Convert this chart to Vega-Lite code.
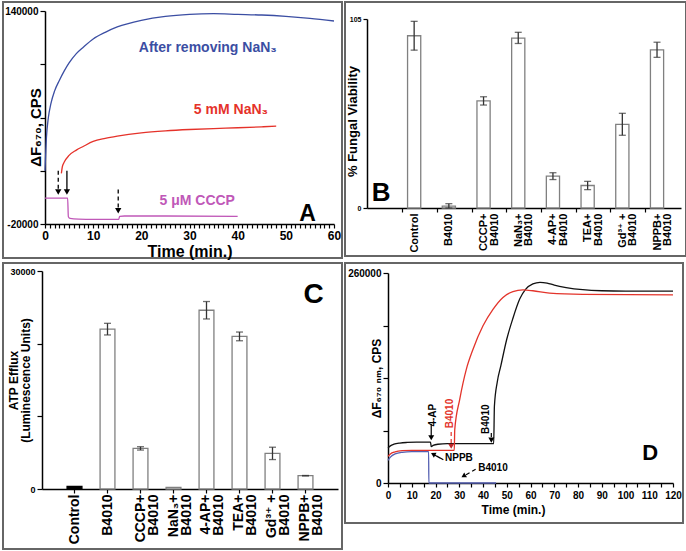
{
  "$schema": "https://vega.github.io/schema/vega-lite/v6.json",
  "padding": {"left": 2, "top": 1, "right": 0, "bottom": 0},
  "background": "white",
  "config": {
    "font": "Liberation Sans, DejaVu Sans, sans-serif",
    "view": {"stroke": "#666", "strokeWidth": 2},
    "axis": {"grid": false, "domainColor": "#000", "domainWidth": 1.5, "tickColor": "#000", "tickWidth": 1.2, "labelColor": "#000", "titleColor": "#000", "labelFontWeight": "bold", "titleFontWeight": "bold", "labelFlush": false, "labelOverlap": false}
  },
  "resolve": {"scale": {"color": "independent", "strokeDash": "independent"}},
  "datasets": {
    "aLines": [
      {"s": "after", "t": 0, "v": 20000}, {"s": "after", "t": 0.3, "v": 45000}, {"s": "after", "t": 0.7, "v": 60000}, {"s": "after", "t": 1.2, "v": 70000}, {"s": "after", "t": 2, "v": 80000}, {"s": "after", "t": 3, "v": 88000}, {"s": "after", "t": 4, "v": 95000}, {"s": "after", "t": 5, "v": 101000}, {"s": "after", "t": 6.5, "v": 108000}, {"s": "after", "t": 8, "v": 113000}, {"s": "after", "t": 10, "v": 119000}, {"s": "after", "t": 12.5, "v": 124000}, {"s": "after", "t": 15, "v": 128000}, {"s": "after", "t": 20, "v": 133000}, {"s": "after", "t": 25, "v": 136000}, {"s": "after", "t": 30, "v": 137500}, {"s": "after", "t": 35, "v": 138000}, {"s": "after", "t": 40, "v": 137500}, {"s": "after", "t": 45, "v": 137000}, {"s": "after", "t": 50, "v": 136000}, {"s": "after", "t": 55, "v": 134500}, {"s": "after", "t": 60, "v": 132500},
      {"s": "nan3", "t": 3.4, "v": 18000}, {"s": "nan3", "t": 3.6, "v": 23000}, {"s": "nan3", "t": 4, "v": 26500}, {"s": "nan3", "t": 5, "v": 31500}, {"s": "nan3", "t": 6.5, "v": 35500}, {"s": "nan3", "t": 8, "v": 38400}, {"s": "nan3", "t": 10, "v": 42000}, {"s": "nan3", "t": 12.5, "v": 44300}, {"s": "nan3", "t": 15, "v": 46000}, {"s": "nan3", "t": 20, "v": 48500}, {"s": "nan3", "t": 25, "v": 50000}, {"s": "nan3", "t": 30, "v": 51000}, {"s": "nan3", "t": 35, "v": 51700}, {"s": "nan3", "t": 40, "v": 52300}, {"s": "nan3", "t": 45, "v": 53000}, {"s": "nan3", "t": 48, "v": 53500},
      {"s": "cccp", "t": 0, "v": -500}, {"s": "cccp", "t": 4.7, "v": -500}, {"s": "cccp", "t": 4.85, "v": -14500}, {"s": "cccp", "t": 5.2, "v": -15800}, {"s": "cccp", "t": 7, "v": -16300}, {"s": "cccp", "t": 10, "v": -16500}, {"s": "cccp", "t": 15.3, "v": -16500}, {"s": "cccp", "t": 15.5, "v": -14200}, {"s": "cccp", "t": 16.5, "v": -14000}, {"s": "cccp", "t": 25, "v": -14000}, {"s": "cccp", "t": 40, "v": -14200}
    ],
    "aArrows": [
      {"t": 2.75, "v": 20000, "v2": 4000, "k": "dashed"},
      {"t": 4.55, "v": 20000, "v2": 4000, "k": "solid"},
      {"t": 15.2, "v": 6000, "v2": -10000, "k": "dashed"}
    ],
    "aText": [
      {"t": 33.8, "v": 112000, "label": "After removing NaN₃", "s": "after"},
      {"t": 38.6, "v": 66000, "label": "5 mM NaN₃", "s": "nan3"},
      {"t": 31.6, "v": -3000, "label": "5 μM CCCP", "s": "cccp"}
    ],
    "bData": [
      {"g": "Control", "v": 95.7}, {"g": "B4010", "v": 1.0}, {"g": "CCCP+\nB4010", "v": 59.5}, {"g": "NaN₃+\nB4010", "v": 94.4},
      {"g": "4-AP+\nB4010", "v": 17.7}, {"g": "TEA+\nB4010", "v": 12.5}, {"g": "Gd³⁺ +\nB4010", "v": 46.5}, {"g": "NPPB+\nB4010", "v": 87.9}
    ],
    "bErr": [
      {"g": "Control", "v": 87.7, "v2": 103.7}, {"g": "B4010", "v": 0, "v2": 2.4}, {"g": "CCCP+\nB4010", "v": 57.2, "v2": 61.8}, {"g": "NaN₃+\nB4010", "v": 91.4, "v2": 97.6},
      {"g": "4-AP+\nB4010", "v": 15.8, "v2": 19.6}, {"g": "TEA+\nB4010", "v": 10.2, "v2": 14.8}, {"g": "Gd³⁺ +\nB4010", "v": 40.4, "v2": 52.6}, {"g": "NPPB+\nB4010", "v": 83.7, "v2": 92.1}
    ],
    "cData": [
      {"g": "Control", "v": 350}, {"g": "B4010", "v": 22000}, {"g": "CCCP+\nB4010", "v": 5590}, {"g": "NaN₃+\nB4010", "v": 230},
      {"g": "4-AP+\nB4010", "v": 24600}, {"g": "TEA+\nB4010", "v": 21000}, {"g": "Gd³⁺ +\nB4010", "v": 4900}, {"g": "NPPB+\nB4010", "v": 1830}
    ],
    "cErr": [
      {"g": "B4010", "v": 21200, "v2": 22800}, {"g": "CCCP+\nB4010", "v": 5360, "v2": 5820},
      {"g": "4-AP+\nB4010", "v": 23400, "v2": 25800}, {"g": "TEA+\nB4010", "v": 20400, "v2": 21600}, {"g": "Gd³⁺ +\nB4010", "v": 4050, "v2": 5750}, {"g": "NPPB+\nB4010", "v": 1800, "v2": 1860}
    ],
    "dLines": [
      {"s": "4ap", "t": 0, "v": 43500}, {"s": "4ap", "t": 1, "v": 46000}, {"s": "4ap", "t": 2.5, "v": 48000}, {"s": "4ap", "t": 5, "v": 49500}, {"s": "4ap", "t": 8, "v": 50200}, {"s": "4ap", "t": 12, "v": 50500}, {"s": "4ap", "t": 17.9, "v": 50500}, {"s": "4ap", "t": 18.2, "v": 45000}, {"s": "4ap", "t": 19, "v": 46500}, {"s": "4ap", "t": 21, "v": 48000}, {"s": "4ap", "t": 25, "v": 48700}, {"s": "4ap", "t": 35, "v": 48700}, {"s": "4ap", "t": 44.5, "v": 48700}, {"s": "4ap", "t": 44.8, "v": 95000}, {"s": "4ap", "t": 46, "v": 125000}, {"s": "4ap", "t": 47.5, "v": 145000}, {"s": "4ap", "t": 50, "v": 178000}, {"s": "4ap", "t": 52.5, "v": 203000}, {"s": "4ap", "t": 55.5, "v": 228000}, {"s": "4ap", "t": 58, "v": 240000}, {"s": "4ap", "t": 61, "v": 246500}, {"s": "4ap", "t": 64, "v": 248500}, {"s": "4ap", "t": 67, "v": 247500}, {"s": "4ap", "t": 70, "v": 245000}, {"s": "4ap", "t": 75, "v": 242000}, {"s": "4ap", "t": 82, "v": 239300}, {"s": "4ap", "t": 90, "v": 238000}, {"s": "4ap", "t": 100, "v": 237600}, {"s": "4ap", "t": 120, "v": 237600},
      {"s": "b4010", "t": 0, "v": 33000}, {"s": "b4010", "t": 1, "v": 36000}, {"s": "b4010", "t": 3, "v": 38500}, {"s": "b4010", "t": 6, "v": 40000}, {"s": "b4010", "t": 10, "v": 40500}, {"s": "b4010", "t": 27.9, "v": 40500}, {"s": "b4010", "t": 28.1, "v": 66000}, {"s": "b4010", "t": 30.2, "v": 103500}, {"s": "b4010", "t": 33, "v": 141000}, {"s": "b4010", "t": 35.8, "v": 165600}, {"s": "b4010", "t": 40, "v": 194600}, {"s": "b4010", "t": 44.2, "v": 215000}, {"s": "b4010", "t": 48.4, "v": 229800}, {"s": "b4010", "t": 52.6, "v": 237000}, {"s": "b4010", "t": 56.8, "v": 239000}, {"s": "b4010", "t": 61, "v": 238000}, {"s": "b4010", "t": 68, "v": 235000}, {"s": "b4010", "t": 82, "v": 233500}, {"s": "b4010", "t": 120, "v": 233000},
      {"s": "nppb", "t": 0, "v": 28000}, {"s": "nppb", "t": 1, "v": 32000}, {"s": "nppb", "t": 3, "v": 36000}, {"s": "nppb", "t": 6, "v": 38000}, {"s": "nppb", "t": 10, "v": 38800}, {"s": "nppb", "t": 17.1, "v": 38800}, {"s": "nppb", "t": 17.2, "v": 0}, {"s": "nppb", "t": 45.5, "v": 0}
    ]
  },
  "columns": 2,
  "spacing": {"row": 5, "column": 3},
  "bounds": "flush",
  "concat": [
    {
      "width": 339,
      "height": 256,
      "encoding": {
        "x": {"field": "t", "type": "quantitative", "scale": {"domain": [0, 60], "range": [42, 331], "nice": false, "zero": false},
          "axis": {"title": "Time (min.)", "offset": -34, "values": [0,1,2,3,4,5,6,7,8,9,10,11,12,13,14,15,16,17,18,19,20,21,22,23,24,25,26,27,28,29,30,31,32,33,34,35,36,37,38,39,40,41,42,43,44,45,46,47,48,49,50,51,52,53,54,55,56,57,58,59,60],
            "labelExpr": "datum.value % 10 === 0 ? datum.label : ''", "labelOverlap": false, "tickSize": 4, "labelFontSize": 12, "labelPadding": 2, "titleFontSize": 16, "titlePadding": 2}},
        "y": {"field": "v", "type": "quantitative", "scale": {"domain": [-20000, 140000], "range": [222, 9], "nice": false, "zero": false},
          "axis": {"title": "ΔF₆₇₀, CPS", "offset": -42, "values": [-20000, 20000, 60000, 100000, 140000], "labelOverlap": false,
            "labelExpr": "datum.value === 140000 ? '140000' : (datum.value === -20000 ? '-20000' : '')", "tickSize": 5, "labelFontSize": 10, "labelPadding": 2, "titleFontSize": 15, "titlePadding": -39, "titleY": 125}}
      },
      "layer": [
        {
          "data": {"name": "aLines"},
          "mark": {"type": "line", "strokeWidth": 1.3, "interpolate": "monotone"},
          "encoding": {
            "color": {"field": "s", "type": "nominal", "scale": {"domain": ["after", "nan3", "cccp"], "range": ["#3b4ea3", "#e5322a", "#c058b8"]}, "legend": null}
          }
        },
        {
          "data": {"name": "aArrows"},
          "mark": {"type": "rule", "strokeWidth": 1.3, "color": "#000"},
          "encoding": {
            "y2": {"field": "v2"},
            "strokeDash": {"field": "k", "type": "nominal", "scale": {"domain": ["solid", "dashed"], "range": [[1, 0], [4, 3]]}, "legend": null}
          }
        },
        {
          "data": {"values": [{"t": 2.75, "v": 4000}, {"t": 4.55, "v": 4000}, {"t": 15.2, "v": -10000}]},
          "mark": {"type": "point", "shape": "triangle-down", "filled": true, "color": "#000", "size": 40, "opacity": 1}
        },
        {
          "data": {"name": "aText"},
          "mark": {"type": "text", "fontSize": 14, "fontWeight": "bold", "baseline": "middle", "align": "center"},
          "encoding": {
            "text": {"field": "label"},
            "color": {"field": "s", "type": "nominal", "legend": null}
          }
        },
        {
          "data": {"values": [{"t": 54.5, "v": -18000, "label": "A"}]},
          "mark": {"type": "text", "fontSize": 23, "fontWeight": "bold", "baseline": "alphabetic", "align": "center", "color": "#000"},
          "encoding": {"text": {"field": "label"}}
        }
      ]
    },
    {
      "width": 341,
      "height": 254,
      "encoding": {
        "x": {"field": "g", "type": "nominal", "scale": {"type": "band", "domain": ["Control", "B4010", "CCCP+\nB4010", "NaN₃+\nB4010", "4-AP+\nB4010", "TEA+\nB4010", "Gd³⁺ +\nB4010", "NPPB+\nB4010"], "range": [22, 336], "paddingInner": 0.62, "paddingOuter": 0.835, "align": 0.7},
          "axis": {"title": null, "offset": -48, "labelAngle": -90, "labelAlign": "right", "labelBaseline": "middle", "labelExpr": "split(datum.label, '\\n')", "labelFontSize": 11, "labelLineHeight": 10.5, "labelPadding": 1, "tickSize": 4, "tickOffset": -12, "labelOffset": 12}},
        "y": {"field": "v", "type": "quantitative", "scale": {"domain": [0, 105], "range": [206, 17], "nice": false, "zero": false},
          "axis": {"title": "% Fungal Viability", "offset": -22, "values": [0, 105], "tickSize": 4, "labelFontSize": 7, "labelPadding": 2, "titleFontSize": 13, "titlePadding": -10, "titleY": 119}}
      },
      "layer": [
        {
          "data": {"name": "bData"},
          "mark": {"type": "bar", "fill": "white", "stroke": "#808080", "strokeWidth": 1.3}
        },
        {
          "data": {"name": "bErr"},
          "mark": {"type": "rule", "strokeWidth": 1.3, "color": "#333"},
          "encoding": {"y2": {"field": "v2"}}
        },
        {
          "data": {"name": "bErr"},
          "transform": [{"fold": ["v", "v2"], "as": ["k", "v"]}],
          "mark": {"type": "tick", "size": 7, "thickness": 1.3, "color": "#333"}
        },
        {
          "data": {"values": [{"g": "Control", "v": 4, "label": "B"}]},
          "mark": {"type": "text", "fontSize": 26, "fontWeight": "bold", "baseline": "alphabetic", "align": "center", "dx": -33, "color": "#000"},
          "encoding": {"text": {"field": "label"}}
        }
      ]
    },
    {
      "width": 339,
      "height": 286,
      "encoding": {
        "x": {"field": "g", "type": "nominal", "scale": {"type": "band", "domain": ["Control", "B4010", "CCCP+\nB4010", "NaN₃+\nB4010", "4-AP+\nB4010", "TEA+\nB4010", "Gd³⁺ +\nB4010", "NPPB+\nB4010"], "range": [39, 335], "paddingInner": 0.55, "paddingOuter": 0.76, "align": 0.5},
          "axis": {"title": null, "offset": -60, "labelAngle": -90, "labelAlign": "right", "labelBaseline": "middle", "labelExpr": "split(datum.label, '\\n')", "labelFontSize": 14, "labelLineHeight": 13, "labelPadding": 1, "tickSize": 4}},
        "y": {"field": "v", "type": "quantitative", "scale": {"domain": [0, 30000], "range": [226, 8], "nice": false, "zero": false},
          "axis": {"title": ["ATP Efflux", "(Luminescence Units)"], "offset": -39, "values": [0, 10000, 20000, 30000], "format": "d", "labelOverlap": false, "labelExpr": "datum.value === 0 || datum.value === 30000 ? datum.label : ''", "tickSize": 5, "labelFontSize": 9, "labelPadding": 2, "titleFontSize": 12, "titleLineHeight": 12, "titlePadding": -23}}
      },
      "layer": [
        {
          "data": {"name": "cData"},
          "mark": {"type": "bar", "fill": "white", "stroke": "#808080", "strokeWidth": 1.3},
          "encoding": {
            "fill": {"condition": {"test": "datum.g === 'Control'", "value": "#000"}, "value": "white"},
            "stroke": {"condition": {"test": "datum.g === 'Control'", "value": "#000"}, "value": "#808080"}
          }
        },
        {
          "data": {"name": "cErr"},
          "mark": {"type": "rule", "strokeWidth": 1.3, "color": "#333"},
          "encoding": {"y2": {"field": "v2"}}
        },
        {
          "data": {"name": "cErr"},
          "transform": [{"fold": ["v", "v2"], "as": ["k", "v"]}],
          "mark": {"type": "tick", "size": 7, "thickness": 1.3, "color": "#333"}
        },
        {
          "data": {"values": [{"g": "NPPB+\nB4010", "v": 25600, "label": "C"}]},
          "mark": {"type": "text", "fontSize": 28, "fontWeight": "bold", "baseline": "alphabetic", "align": "center", "dx": 8, "color": "#000"},
          "encoding": {"text": {"field": "label"}}
        }
      ]
    },
    {
      "width": 338,
      "height": 260,
      "encoding": {
        "x": {"field": "t", "type": "quantitative", "scale": {"domain": [0, 120], "range": [43, 328], "nice": false, "zero": false},
          "axis": {"title": "Time (min.)", "offset": -40, "values": [0,5,10,15,20,25,30,35,40,45,50,55,60,65,70,75,80,85,90,95,100,105,110,115,120], "labelOverlap": false,
            "labelExpr": "datum.value % 10 === 0 ? datum.label : ''", "tickSize": 4, "labelFontSize": 10, "labelPadding": 3, "titleFontSize": 12, "titlePadding": 4, "titleX": 168}},
        "y": {"field": "v", "type": "quantitative", "scale": {"domain": [0, 260000], "range": [220, 10], "nice": false, "zero": false},
          "axis": {"title": "ΔF₆₇₀ ₙₘ, CPS", "offset": -43, "values": [0, 65000, 130000, 195000, 260000], "format": "d", "labelOverlap": false,
            "labelExpr": "datum.value === 0 || datum.value === 260000 ? datum.label : ''", "tickSize": 5, "labelFontSize": 10, "labelPadding": 2, "titleFontSize": 12, "titlePadding": -36}}
      },
      "layer": [
        {
          "data": {"name": "dLines"},
          "mark": {"type": "line", "strokeWidth": 1.3, "interpolate": "monotone"},
          "encoding": {
            "color": {"field": "s", "type": "nominal", "scale": {"domain": ["4ap", "b4010", "nppb"], "range": ["#111111", "#e3342b", "#5560b2"]}, "legend": null}
          }
        },
        {
          "data": {"values": [
            {"t": 18.2, "v": 73000, "t2": 18.2, "v2": 56000, "k": "solid"},
            {"t": 43.5, "v": 62000, "t2": 43.5, "v2": 53000, "k": "dashed"},
            {"t": 23.3, "v": 28700, "t2": 19.0, "v2": 35800, "k": "solid"},
            {"t": 36.9, "v": 17000, "t2": 31.8, "v2": 8500, "k": "dashed"}
          ]},
          "mark": {"type": "rule", "strokeWidth": 1.2, "color": "#000"},
          "encoding": {
            "x2": {"field": "t2"},
            "y2": {"field": "v2"},
            "strokeDash": {"field": "k", "type": "nominal", "scale": {"domain": ["solid", "dashed"], "range": [[1, 0], [4, 3]]}, "legend": null}
          }
        },
        {
          "data": {"values": [{"t": 26.6, "v": 63000, "v2": 45500}]},
          "mark": {"type": "rule", "strokeWidth": 1.2, "color": "#e3342b", "strokeDash": [4, 3]},
          "encoding": {"y2": {"field": "v2"}}
        },
        {
          "data": {"values": [{"t": 18.2, "v": 56000}, {"t": 43.5, "v": 53000}]},
          "mark": {"type": "point", "shape": "triangle-down", "filled": true, "color": "#000", "size": 36, "opacity": 1}
        },
        {
          "data": {"values": [{"t": 26.6, "v": 45500}]},
          "mark": {"type": "point", "shape": "triangle-down", "filled": true, "color": "#c0282a", "size": 36, "opacity": 1}
        },
        {
          "data": {"values": [{"t": 19.0, "v": 35800}]},
          "mark": {"type": "point", "shape": "triangle-up", "angle": 299, "filled": true, "color": "#000", "size": 30, "opacity": 1}
        },
        {
          "data": {"values": [{"t": 31.8, "v": 8500}]},
          "mark": {"type": "point", "shape": "triangle-up", "angle": 240, "filled": true, "color": "#000", "size": 30, "opacity": 1}
        },
        {
          "data": {"values": [{"t": 18.9, "v": 84000, "label": "4-AP"}, {"t": 41.4, "v": 79000, "label": "B4010"}]},
          "mark": {"type": "text", "fontSize": 10, "fontWeight": "bold", "angle": 270, "baseline": "middle", "align": "center", "color": "#000"},
          "encoding": {"text": {"field": "label"}}
        },
        {
          "data": {"values": [{"t": 25.9, "v": 86000, "label": "B4010"}]},
          "mark": {"type": "text", "fontSize": 10, "fontWeight": "bold", "angle": 270, "baseline": "middle", "align": "center", "color": "#e3342b"},
          "encoding": {"text": {"field": "label"}}
        },
        {
          "data": {"values": [{"t": 24.0, "v": 31000, "label": "NPPB"}, {"t": 38.0, "v": 18600, "label": "B4010"}]},
          "mark": {"type": "text", "fontSize": 10, "fontWeight": "bold", "baseline": "middle", "align": "left", "color": "#000"},
          "encoding": {"text": {"field": "label"}}
        },
        {
          "data": {"values": [{"t": 110.4, "v": 28500, "label": "D"}]},
          "mark": {"type": "text", "fontSize": 22, "fontWeight": "bold", "baseline": "alphabetic", "align": "center", "color": "#000"},
          "encoding": {"text": {"field": "label"}}
        }
      ]
    }
  ]
}
